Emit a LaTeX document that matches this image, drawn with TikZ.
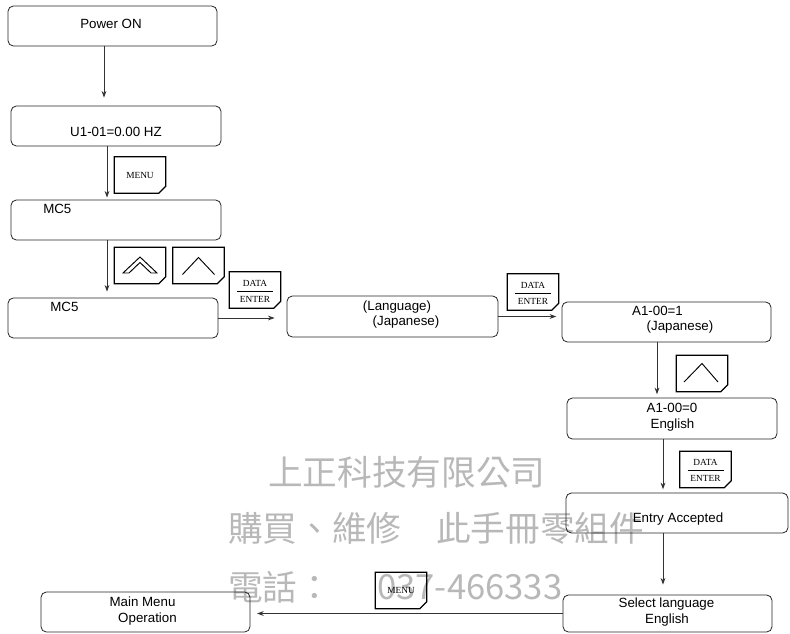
\documentclass[tikz,border=0pt]{standalone}
\usepackage{fontspec}
\setmainfont{Liberation Sans}
\newfontfamily\keyfont{Liberation Serif}
\newfontfamily\cjkfont{Noto Sans CJK TC}
\usetikzlibrary{positioning,calc,arrows.meta}
\def\px{0.75pt}

\tikzset{
  box/.style={draw=black!85, line width=0.6pt, rounded corners=4pt, inner sep=0pt},
  boxsize/.style 2 args={minimum width=#1*\px, minimum height=#2*\px},
  boxtext/.style={font=\fontsize{10}{12}\selectfont, inner sep=0pt, anchor=base},
  keynode/.style={minimum width=51*\px, minimum height=36*\px, inner sep=0pt},
  keyline/.style={draw=black, line width=1pt},
  keytext/.style={font=\keyfont\fontsize{7}{8}\selectfont, inner sep=0pt},
  flow/.style={draw=black!80, line width=0.6pt, -{Stealth[length=5pt,width=3.6pt]}},
  wmark/.style={font=\cjkfont\fontsize{26}{30}\selectfont, text=black!28, inner sep=0pt, anchor=west}
}

% key with the lower right corner cut off
\newcommand{\keycap}[3]{%
  \node[keynode] (#1) at (#2,#3) {};
  \draw[keyline] (#1.north west) -- (#1.north east) -- ([yshift=7*\px]#1.south east)
    -- ([xshift=-7*\px]#1.south east) -- (#1.south west) -- cycle;}
\newcommand{\datakey}[3]{%
  \keycap{#1}{#2}{#3}
  \node[keytext] (#1-top) at ($(#1)+(0,-7)$) {DATA};
  \draw[line width=0.6pt] ($(#1)+(-18,1)$) -- ($(#1)+(18,1)$);
  \node[keytext] (#1-bot) at ($(#1)+(0,9)$) {ENTER};}

\begin{document}
\begin{tikzpicture}[x=0.75pt, y=-0.75pt]
\useasboundingbox (0,0) rectangle (790,633);

% watermark
\node[wmark] (wm1) at (268,472) {上正科技有限公司};
\node[wmark] (wm2) at (228,528) {購買、維修　此手冊零組件};
\node[wmark] (wm3) at (228,587) {電話：};
\node[wmark] (wm4) at (377,587) {037-466333};

% boxes
\node[box, boxsize={209}{40}] (power) at (112.5,26) {};
\node[box, boxsize={210}{40}] (u1) at (116,126) {};
\node[box, boxsize={210}{40}] (mcA) at (116,220) {};
\node[box, boxsize={210}{40}] (mcB) at (113,318) {};
\node[box, boxsize={211}{41}] (lang) at (392.5,316.5) {};
\node[box, boxsize={209}{40}] (aone) at (666.5,322) {};
\node[box, boxsize={210}{41}] (azero) at (672,418.5) {};
\node[box, boxsize={222}{40}] (entry) at (677,513) {};
\node[box, boxsize={209}{37}] (select) at (667.5,613.5) {};
\node[box, boxsize={209}{40}] (mainmenu) at (145.5,612) {};

% texts
\node[boxtext] (t-power) at (111,28.5) {Power ON};
\node[boxtext] (t-u1) at (116,136) {U1-01=0.00 HZ};
\node[boxtext, anchor=base west] (t-mcA) at (43,213.5) {MC5};
\node[boxtext, anchor=base west] (t-mcB) at (50,311.5) {MC5};
\node[boxtext] (t-lang1) at (397,310) {(Language)};
\node[boxtext] (t-lang2) at (406,325) {(Japanese)};
\node[boxtext] (t-aone1) at (657.5,315) {A1-00=1};
\node[boxtext] (t-aone2) at (680,330) {(Japanese)};
\node[boxtext] (t-azero1) at (672,412.5) {A1-00=0};
\node[boxtext] (t-azero2) at (672.5,428) {English};
\node[boxtext] (t-entry) at (678,522.5) {Entry Accepted};
\node[boxtext] (t-sel1) at (666.5,607.5) {Select language};
\node[boxtext] (t-sel2) at (667,623) {English};
\node[boxtext] (t-main1) at (142.5,606.5) {Main Menu};
\node[boxtext] (t-main2) at (147.5,622.5) {Operation};

% keys
\keycap{menuA}{140}{175}
\node[keytext] (menuA-txt) at (menuA) {MENU};
\keycap{dupkey}{140}{265.5}
\draw[line width=0.7pt, line join=miter] ($(dupkey)+(-17,7.5)$) -- ($(dupkey)+(0,-8.5)$) -- ($(dupkey)+(17,7.5)$)
  -- ($(dupkey)+(11,7.5)$) -- ($(dupkey)+(0,-3)$) -- ($(dupkey)+(-11,7.5)$) -- cycle;
\keycap{upA}{198.5}{265.5}
\draw[line width=0.7pt] ($(upA)+(-16,9)$) -- ($(upA)+(0,-8)$) -- ($(upA)+(16,9)$);
\datakey{enterA}{255}{290}
\datakey{enterB}{533}{292}
\keycap{upB}{702}{373.5}
\draw[line width=0.7pt] ($(upB)+(-18,8.5)$) -- ($(upB)+(0,-10)$) -- ($(upB)+(16,8.5)$);
\datakey{enterC}{705.5}{469.5}
\keycap{menuB}{401}{590.5}
\node[keytext] (menuB-txt) at (menuB) {MENU};

% connectors
\draw[flow, shorten >=6pt] ($(power.south)+(-8.5,0)$) -- ($(u1.north)+(-12,0)$);
\draw[flow, shorten >=1.5pt] ($(u1.south)+(-9,0)$) -- ($(mcA.north)+(-9,0)$);
\draw[flow, shorten >=4.5pt] ($(mcA.south)+(-9,0)$) -- ($(mcB.north)+(-6,0)$);
\draw[flow, shorten >=9pt] (mcB.east) -- (mcB.east -| lang.west);
\draw[flow, shorten >=4pt] (lang.east) -- (lang.east -| aone.west);
\draw[flow, shorten >=2.5pt] ($(aone.south)+(-9.5,0)$) -- ($(azero.north)+(-15,0)$);
\draw[flow, shorten >=2.5pt] ($(azero.south)+(-9,0)$) -- ($(entry.north)+(-14,0)$);
\draw[flow, shorten >=7.5pt] ($(entry.south)+(-14,0)$) -- ($(select.north)+(-4.5,0)$);
\draw[flow, shorten >=5pt] (select.west) -- (select.west -| mainmenu.east);
\end{tikzpicture}
\end{document}
